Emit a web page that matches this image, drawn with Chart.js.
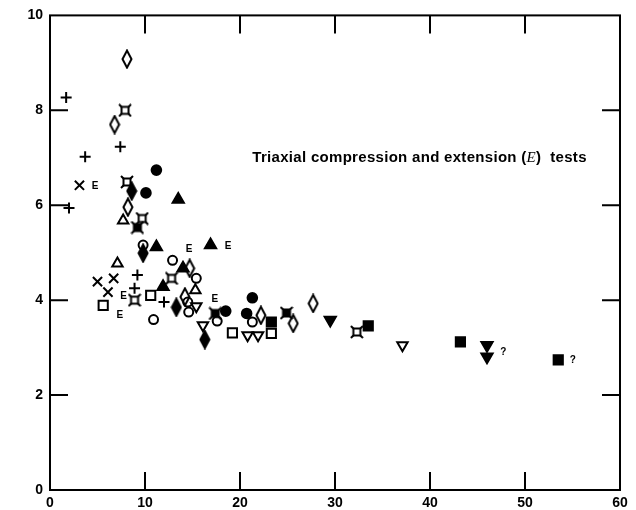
<!DOCTYPE html>
<html lang="en">
<head>
    <meta charset="UTF-8">
    <title>Triaxial compression and extension tests</title>
    <script src="https://cdn.jsdelivr.net/npm/chart.js"></script>
    <style>
        body {
            margin: 0;
            background: #fff;
        }

        #wrap {
            width: 636px;
            height: 510px;
        }
    </style>
</head>

<body>
    <div id="wrap"><canvas id="myChart"></canvas></div>

    <script>
        // tick labels
        const xTicks = [0, 10, 20, 30, 40, 50, 60];
        const yTicks = [0, 2, 4, 6, 8, 10];

        // points [x, y], one list per marker kind
        const plusPts = [[1.7, 8.27], [3.7, 7.02], [7.4, 7.23], [2.0, 5.94], [9.2, 4.53], [8.9, 4.25], [12.0, 3.96]];
        const crossPts = [[3.1, 6.42], [6.7, 4.46], [5.0, 4.39], [6.1, 4.17]];
        const diamondPts = [[8.1, 9.08], [6.8, 7.7], [8.2, 5.96], [14.7, 4.67], [14.2, 4.07], [22.2, 3.68], [25.6, 3.51], [27.7, 3.93]];
        const diamondFilledPts = [[8.6, 6.3], [9.8, 4.99], [13.3, 3.85], [16.3, 3.17]];
        const circlePts = [[9.8, 5.16], [12.9, 4.84], [15.4, 4.46], [14.5, 3.96], [14.6, 3.75], [10.9, 3.59], [17.6, 3.56], [21.3, 3.54]];
        const dotPts = [[11.2, 6.74], [10.1, 6.26], [18.5, 3.77], [20.7, 3.72], [21.3, 4.05]];
        const triPts = [[7.7, 5.68], [7.1, 4.77], [15.3, 4.21]];
        const triFilledPts = [[13.5, 6.12], [11.2, 5.12], [16.9, 5.16], [14.0, 4.67], [11.9, 4.28]];
        const invTriPts = [[15.4, 3.87], [16.1, 3.47], [20.8, 3.26], [21.9, 3.26], [37.1, 3.05]];
        const invTriFilledPts = [[29.5, 3.58], [46.0, 3.05], [46.0, 2.81]];
        const squarePts = [[5.6, 3.89], [10.6, 4.1], [19.2, 3.31], [23.3, 3.30]];
        const squareFilledPts = [[23.3, 3.54], [33.5, 3.46], [43.2, 3.12], [53.5, 2.74]];
        const starSqPts = [[7.9, 8.0], [8.1, 6.49], [9.7, 5.72], [8.9, 4.0], [12.8, 4.46], [32.3, 3.33]];
        const starSqFilledPts = [[9.2, 5.53], [17.4, 3.72], [24.9, 3.73]];

        // small labels next to points
        const noteText = ['E', 'E', 'E', 'E', 'E', 'E', '?', '?'];
        const noteX = [4.4, 7.4, 7.0, 14.3, 18.4, 17.0, 47.4, 54.7];
        const noteY = [6.39, 4.08, 3.68, 5.07, 5.14, 4.01, 2.91, 2.74];

        const titleX = 21.3;
        const titleY = 6.99;

        // custom marker images
        function diamondImg(filled) {
            const c = document.createElement('canvas');
            c.width = 12; c.height = 20;
            const g = c.getContext('2d');
            g.beginPath();
            g.moveTo(6, 1.5); g.lineTo(10.5, 10); g.lineTo(6, 18.5); g.lineTo(1.5, 10);
            g.closePath();
            g.lineWidth = 2;
            g.strokeStyle = '#000';
            if (filled) { g.fillStyle = '#000'; g.fill(); }
            g.stroke();
            return c;
        }

        function starSqImg(filled) {
            const c = document.createElement('canvas');
            c.width = 14; c.height = 14;
            const g = c.getContext('2d');
            g.strokeStyle = '#000';
            g.lineWidth = 2;
            if (filled) { g.fillStyle = '#000'; g.fillRect(3.5, 3.5, 7, 7); }
            g.strokeRect(3.5, 3.5, 7, 7);
            g.beginPath();
            g.moveTo(1, 1); g.lineTo(4, 4);
            g.moveTo(13, 1); g.lineTo(10, 4);
            g.moveTo(1, 13); g.lineTo(4, 10);
            g.moveTo(13, 13); g.lineTo(10, 10);
            g.stroke();
            return c;
        }

        const toXY = pts => pts.map(p => ({ x: p[0], y: p[1] }));

        function series(pts, style, radius, filled, rotation) {
            return {
                data: toXY(pts),
                pointStyle: style,
                pointRadius: radius,
                pointHoverRadius: radius,
                pointRotation: rotation || 0,
                borderColor: '#000',
                backgroundColor: filled ? '#000' : 'rgba(0,0,0,0)',
                borderWidth: 2
            };
        }

        // box, inward ticks and text notes
        const framePlugin = {
            id: 'frame',
            afterDraw(chart) {
                const ctx = chart.ctx;
                const a = chart.chartArea;
                const xs = chart.scales.x;
                const ys = chart.scales.y;
                const tl = 18;
                ctx.save();
                ctx.strokeStyle = '#000';
                ctx.lineWidth = 2;
                ctx.strokeRect(a.left, a.top, a.right - a.left, a.bottom - a.top);
                ctx.beginPath();
                xTicks.slice(1, -1).forEach(v => {
                    const px = xs.getPixelForValue(v);
                    ctx.moveTo(px, a.bottom); ctx.lineTo(px, a.bottom - tl);
                    ctx.moveTo(px, a.top); ctx.lineTo(px, a.top + tl);
                });
                yTicks.slice(1, -1).forEach(v => {
                    const py = ys.getPixelForValue(v);
                    ctx.moveTo(a.left, py); ctx.lineTo(a.left + tl, py);
                    ctx.moveTo(a.right, py); ctx.lineTo(a.right - tl, py);
                });
                ctx.stroke();

                ctx.fillStyle = '#000';
                ctx.textBaseline = 'middle';
                ctx.textAlign = 'left';
                ctx.font = 'bold 10px "Liberation Sans", Arial, sans-serif';
                noteText.forEach((t, i) => {
                    ctx.fillText(t, xs.getPixelForValue(noteX[i]), ys.getPixelForValue(noteY[i]));
                });

                // title text with italic E
                let tx = xs.getPixelForValue(titleX);
                const ty = ys.getPixelForValue(titleY);
                const parts = [
                    ['Triaxial compression and extension (', 'bold 15px "Liberation Sans", Arial, sans-serif'],
                    ['E', 'italic 15px "Liberation Serif", serif'],
                    [')  tests', 'bold 15px "Liberation Sans", Arial, sans-serif']
                ];
                ctx.letterSpacing = '0.3px';
                parts.forEach(p => {
                    ctx.font = p[1];
                    ctx.fillText(p[0], tx, ty);
                    tx += ctx.measureText(p[0]).width;
                });
                ctx.restore();
            }
        };

        function createChart() {
            const ctx = document.getElementById('myChart').getContext('2d');
            const tickFont = { family: '"Liberation Sans", Arial, sans-serif', size: 14, weight: 'bold' };

            new Chart(ctx, {
                type: 'scatter',
                data: {
                    datasets: [
                        series(plusPts, 'cross', 5.5, false),
                        series(crossPts, 'crossRot', 6.5, false),
                        series(diamondPts, diamondImg(false), 5, false),
                        series(diamondFilledPts, diamondImg(true), 5, true),
                        series(circlePts, 'circle', 4.5, false),
                        series(dotPts, 'circle', 4.8, true),
                        series(triPts, 'triangle', 6, false),
                        series(triFilledPts, 'triangle', 6.5, true),
                        series(invTriPts, 'triangle', 6, false, 180),
                        series(invTriFilledPts, 'triangle', 6.5, true, 180),
                        series(squarePts, 'rect', 6.5, false),
                        series(squareFilledPts, 'rect', 6.5, true),
                        series(starSqPts, starSqImg(false), 6, false),
                        series(starSqFilledPts, starSqImg(true), 6, true)
                    ]
                },
                options: {
                    responsive: true,
                    maintainAspectRatio: false,
                    animation: false,
                    layout: { padding: { top: 15, right: 16, left: 0, bottom: 0 } },
                    plugins: {
                        legend: { display: false },
                        tooltip: { enabled: false }
                    },
                    scales: {
                        x: {
                            type: 'linear',
                            min: 0,
                            max: 60,
                            afterBuildTicks: s => { s.ticks = xTicks.map(v => ({ value: v })); },
                            afterFit: s => { s.height = 20; },
                            grid: { display: false, drawTicks: false },
                            border: { display: false },
                            ticks: { color: '#000', font: tickFont, padding: 5, maxRotation: 0 }
                        },
                        y: {
                            type: 'linear',
                            min: 0,
                            max: 10,
                            afterBuildTicks: s => { s.ticks = yTicks.map(v => ({ value: v })); },
                            afterFit: s => { s.width = 50; },
                            grid: { display: false, drawTicks: false },
                            border: { display: false },
                            ticks: { color: '#000', font: tickFont, padding: 7 }
                        }
                    }
                },
                plugins: [framePlugin]
            });
        }

        createChart();
    </script>
</body>

</html>
